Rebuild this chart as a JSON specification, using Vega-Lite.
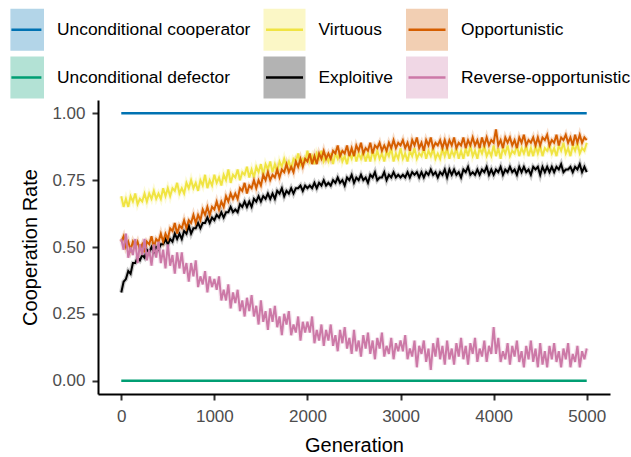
{
  "$schema": "https://vega.github.io/schema/vega-lite/v6.json",
  "width": 512,
  "height": 294,
  "autosize": "none",
  "padding": {"left": 98, "top": 100, "right": 21, "bottom": 63},
  "background": "white",
  "config": {
    "view": {"stroke": null},
    "font": "Liberation Sans",
    "axis": {
      "grid": false,
      "domainColor": "black",
      "domainWidth": 2,
      "tickColor": "#333333",
      "tickWidth": 2,
      "tickSize": 6,
      "labelColor": "#4D4D4D",
      "labelFontSize": 17,
      "labelFont": "Liberation Sans",
      "titleFont": "Liberation Sans",
      "titleFontSize": 20,
      "titleFontWeight": "normal",
      "titleColor": "black"
    },
    "legend": {
      "labelFont": "Liberation Sans",
      "labelFontSize": 17.4,
      "labelColor": "black"
    }
  },
  "datasets": {
    "sim": [
{"g":0,"v":0.69,"e":0.33,"o":0.52,"r":0.53},
{"g":25,"v":0.65,"e":0.37,"o":0.54,"r":0.49},
{"g":50,"v":0.68,"e":0.38,"o":0.50,"r":0.55},
{"g":75,"v":0.65,"e":0.41,"o":0.52,"r":0.46},
{"g":100,"v":0.69,"e":0.40,"o":0.49,"r":0.50},
{"g":125,"v":0.67,"e":0.44,"o":0.52,"r":0.47},
{"g":150,"v":0.70,"e":0.44,"o":0.50,"r":0.53},
{"g":175,"v":0.66,"e":0.46,"o":0.52,"r":0.44},
{"g":200,"v":0.68,"e":0.45,"o":0.49,"r":0.51},
{"g":225,"v":0.67,"e":0.47,"o":0.51,"r":0.47},
{"g":250,"v":0.70,"e":0.46,"o":0.48,"r":0.53},
{"g":275,"v":0.67,"e":0.49,"o":0.52,"r":0.45},
{"g":300,"v":0.70,"e":0.48,"o":0.51,"r":0.49},
{"g":325,"v":0.68,"e":0.50,"o":0.54,"r":0.43},
{"g":350,"v":0.71,"e":0.48,"o":0.50,"r":0.51},
{"g":375,"v":0.68,"e":0.50,"o":0.53,"r":0.46},
{"g":400,"v":0.70,"e":0.49,"o":0.52,"r":0.52},
{"g":425,"v":0.68,"e":0.51,"o":0.55,"r":0.44},
{"g":450,"v":0.72,"e":0.51,"o":0.52,"r":0.49},
{"g":475,"v":0.69,"e":0.53,"o":0.55,"r":0.42},
{"g":500,"v":0.72,"e":0.51,"o":0.53,"r":0.51},
{"g":525,"v":0.69,"e":0.53,"o":0.57,"r":0.43},
{"g":550,"v":0.72,"e":0.52,"o":0.56,"r":0.47},
{"g":575,"v":0.71,"e":0.55,"o":0.59,"r":0.40},
{"g":600,"v":0.74,"e":0.53,"o":0.55,"r":0.48},
{"g":625,"v":0.70,"e":0.55,"o":0.58,"r":0.42},
{"g":650,"v":0.72,"e":0.53,"o":0.57,"r":0.48},
{"g":675,"v":0.70,"e":0.56,"o":0.60,"r":0.40},
{"g":700,"v":0.74,"e":0.55,"o":0.57,"r":0.44},
{"g":725,"v":0.72,"e":0.58,"o":0.60,"r":0.37},
{"g":750,"v":0.75,"e":0.55,"o":0.59,"r":0.44},
{"g":775,"v":0.72,"e":0.57,"o":0.62,"r":0.39},
{"g":800,"v":0.74,"e":0.57,"o":0.59,"r":0.45},
{"g":825,"v":0.71,"e":0.59,"o":0.62,"r":0.35},
{"g":850,"v":0.75,"e":0.57,"o":0.60,"r":0.39},
{"g":875,"v":0.73,"e":0.59,"o":0.64,"r":0.36},
{"g":900,"v":0.77,"e":0.59,"o":0.62,"r":0.41},
{"g":925,"v":0.72,"e":0.61,"o":0.65,"r":0.33},
{"g":950,"v":0.75,"e":0.59,"o":0.62,"r":0.39},
{"g":975,"v":0.73,"e":0.61,"o":0.65,"r":0.35},
{"g":1000,"v":0.77,"e":0.60,"o":0.64,"r":0.38},
{"g":1025,"v":0.74,"e":0.62,"o":0.67,"r":0.34},
{"g":1050,"v":0.76,"e":0.61,"o":0.64,"r":0.39},
{"g":1075,"v":0.73,"e":0.63,"o":0.67,"r":0.30},
{"g":1100,"v":0.77,"e":0.61,"o":0.65,"r":0.34},
{"g":1125,"v":0.75,"e":0.63,"o":0.69,"r":0.30},
{"g":1150,"v":0.79,"e":0.63,"o":0.67,"r":0.36},
{"g":1175,"v":0.74,"e":0.65,"o":0.70,"r":0.27},
{"g":1200,"v":0.77,"e":0.63,"o":0.68,"r":0.33},
{"g":1225,"v":0.76,"e":0.64,"o":0.70,"r":0.29},
{"g":1250,"v":0.79,"e":0.63,"o":0.68,"r":0.34},
{"g":1275,"v":0.75,"e":0.66,"o":0.72,"r":0.26},
{"g":1300,"v":0.78,"e":0.65,"o":0.71,"r":0.30},
{"g":1325,"v":0.77,"e":0.67,"o":0.74,"r":0.24},
{"g":1350,"v":0.80,"e":0.65,"o":0.70,"r":0.31},
{"g":1375,"v":0.76,"e":0.67,"o":0.73,"r":0.26},
{"g":1400,"v":0.79,"e":0.65,"o":0.72,"r":0.32},
{"g":1425,"v":0.76,"e":0.68,"o":0.75,"r":0.24},
{"g":1450,"v":0.80,"e":0.67,"o":0.72,"r":0.28},
{"g":1475,"v":0.78,"e":0.69,"o":0.75,"r":0.21},
{"g":1500,"v":0.81,"e":0.67,"o":0.73,"r":0.30},
{"g":1525,"v":0.77,"e":0.69,"o":0.77,"r":0.22},
{"g":1550,"v":0.81,"e":0.68,"o":0.75,"r":0.26},
{"g":1575,"v":0.79,"e":0.70,"o":0.78,"r":0.19},
{"g":1600,"v":0.82,"e":0.68,"o":0.75,"r":0.27},
{"g":1625,"v":0.78,"e":0.70,"o":0.77,"r":0.22},
{"g":1650,"v":0.81,"e":0.68,"o":0.76,"r":0.28},
{"g":1675,"v":0.78,"e":0.71,"o":0.79,"r":0.20},
{"g":1700,"v":0.82,"e":0.70,"o":0.76,"r":0.24},
{"g":1725,"v":0.80,"e":0.72,"o":0.79,"r":0.17},
{"g":1750,"v":0.83,"e":0.69,"o":0.78,"r":0.25},
{"g":1775,"v":0.80,"e":0.71,"o":0.81,"r":0.21},
{"g":1800,"v":0.82,"e":0.70,"o":0.78,"r":0.26},
{"g":1825,"v":0.79,"e":0.72,"o":0.80,"r":0.17},
{"g":1850,"v":0.83,"e":0.70,"o":0.78,"r":0.21},
{"g":1875,"v":0.82,"e":0.72,"o":0.82,"r":0.18},
{"g":1900,"v":0.85,"e":0.72,"o":0.80,"r":0.24},
{"g":1925,"v":0.81,"e":0.73,"o":0.83,"r":0.15},
{"g":1950,"v":0.83,"e":0.71,"o":0.80,"r":0.22},
{"g":1975,"v":0.82,"e":0.73,"o":0.83,"r":0.18},
{"g":2000,"v":0.86,"e":0.72,"o":0.82,"r":0.22},
{"g":2025,"v":0.82,"e":0.73,"o":0.85,"r":0.18},
{"g":2050,"v":0.84,"e":0.72,"o":0.81,"r":0.24},
{"g":2075,"v":0.81,"e":0.74,"o":0.84,"r":0.14},
{"g":2100,"v":0.85,"e":0.72,"o":0.81,"r":0.19},
{"g":2125,"v":0.83,"e":0.74,"o":0.85,"r":0.15},
{"g":2150,"v":0.86,"e":0.73,"o":0.83,"r":0.21},
{"g":2175,"v":0.82,"e":0.75,"o":0.86,"r":0.13},
{"g":2200,"v":0.84,"e":0.73,"o":0.83,"r":0.19},
{"g":2225,"v":0.82,"e":0.74,"o":0.85,"r":0.15},
{"g":2250,"v":0.85,"e":0.73,"o":0.83,"r":0.21},
{"g":2275,"v":0.81,"e":0.75,"o":0.86,"r":0.13},
{"g":2300,"v":0.85,"e":0.74,"o":0.85,"r":0.17},
{"g":2325,"v":0.83,"e":0.76,"o":0.88,"r":0.11},
{"g":2350,"v":0.86,"e":0.74,"o":0.84,"r":0.19},
{"g":2375,"v":0.82,"e":0.75,"o":0.86,"r":0.14},
{"g":2400,"v":0.84,"e":0.73,"o":0.85,"r":0.20},
{"g":2425,"v":0.81,"e":0.76,"o":0.88,"r":0.12},
{"g":2450,"v":0.85,"e":0.75,"o":0.84,"r":0.16},
{"g":2475,"v":0.83,"e":0.77,"o":0.87,"r":0.10},
{"g":2500,"v":0.86,"e":0.74,"o":0.84,"r":0.19},
{"g":2525,"v":0.82,"e":0.76,"o":0.88,"r":0.11},
{"g":2550,"v":0.85,"e":0.75,"o":0.86,"r":0.15},
{"g":2575,"v":0.83,"e":0.77,"o":0.89,"r":0.09},
{"g":2600,"v":0.86,"e":0.75,"o":0.85,"r":0.17},
{"g":2625,"v":0.82,"e":0.76,"o":0.87,"r":0.12},
{"g":2650,"v":0.85,"e":0.74,"o":0.86,"r":0.18},
{"g":2675,"v":0.82,"e":0.77,"o":0.89,"r":0.10},
{"g":2700,"v":0.86,"e":0.76,"o":0.85,"r":0.15},
{"g":2725,"v":0.83,"e":0.78,"o":0.88,"r":0.08},
{"g":2750,"v":0.86,"e":0.75,"o":0.87,"r":0.16},
{"g":2775,"v":0.83,"e":0.76,"o":0.89,"r":0.12},
{"g":2800,"v":0.85,"e":0.76,"o":0.86,"r":0.18},
{"g":2825,"v":0.82,"e":0.78,"o":0.88,"r":0.09},
{"g":2850,"v":0.86,"e":0.75,"o":0.86,"r":0.13},
{"g":2875,"v":0.84,"e":0.77,"o":0.89,"r":0.10},
{"g":2900,"v":0.87,"e":0.76,"o":0.87,"r":0.16},
{"g":2925,"v":0.82,"e":0.78,"o":0.90,"r":0.08},
{"g":2950,"v":0.85,"e":0.76,"o":0.87,"r":0.14},
{"g":2975,"v":0.83,"e":0.77,"o":0.89,"r":0.11},
{"g":3000,"v":0.87,"e":0.76,"o":0.88,"r":0.15},
{"g":3025,"v":0.83,"e":0.77,"o":0.90,"r":0.11},
{"g":3050,"v":0.85,"e":0.76,"o":0.87,"r":0.17},
{"g":3075,"v":0.82,"e":0.78,"o":0.89,"r":0.08},
{"g":3100,"v":0.86,"e":0.76,"o":0.86,"r":0.12},
{"g":3125,"v":0.84,"e":0.78,"o":0.90,"r":0.09},
{"g":3150,"v":0.87,"e":0.77,"o":0.88,"r":0.15},
{"g":3175,"v":0.83,"e":0.78,"o":0.91,"r":0.05},
{"g":3200,"v":0.85,"e":0.76,"o":0.87,"r":0.13},
{"g":3225,"v":0.84,"e":0.78,"o":0.89,"r":0.10},
{"g":3250,"v":0.87,"e":0.76,"o":0.86,"r":0.15},
{"g":3275,"v":0.83,"e":0.78,"o":0.90,"r":0.07},
{"g":3300,"v":0.86,"e":0.77,"o":0.88,"r":0.12},
{"g":3325,"v":0.84,"e":0.79,"o":0.91,"r":0.04},
{"g":3350,"v":0.87,"e":0.77,"o":0.87,"r":0.14},
{"g":3375,"v":0.83,"e":0.78,"o":0.89,"r":0.09},
{"g":3400,"v":0.85,"e":0.76,"o":0.88,"r":0.16},
{"g":3425,"v":0.83,"e":0.78,"o":0.90,"r":0.08},
{"g":3450,"v":0.87,"e":0.77,"o":0.87,"r":0.13},
{"g":3475,"v":0.84,"e":0.79,"o":0.90,"r":0.06},
{"g":3500,"v":0.87,"e":0.76,"o":0.87,"r":0.15},
{"g":3525,"v":0.83,"e":0.79,"o":0.90,"r":0.08},
{"g":3550,"v":0.86,"e":0.77,"o":0.88,"r":0.12},
{"g":3575,"v":0.84,"e":0.79,"o":0.91,"r":0.06},
{"g":3600,"v":0.87,"e":0.77,"o":0.87,"r":0.14},
{"g":3625,"v":0.83,"e":0.78,"o":0.89,"r":0.09},
{"g":3650,"v":0.86,"e":0.76,"o":0.88,"r":0.16},
{"g":3675,"v":0.83,"e":0.79,"o":0.91,"r":0.08},
{"g":3700,"v":0.87,"e":0.78,"o":0.87,"r":0.13},
{"g":3725,"v":0.84,"e":0.80,"o":0.90,"r":0.06},
{"g":3750,"v":0.88,"e":0.77,"o":0.88,"r":0.14},
{"g":3775,"v":0.84,"e":0.78,"o":0.91,"r":0.10},
{"g":3800,"v":0.86,"e":0.77,"o":0.88,"r":0.16},
{"g":3825,"v":0.83,"e":0.79,"o":0.90,"r":0.07},
{"g":3850,"v":0.87,"e":0.77,"o":0.87,"r":0.12},
{"g":3875,"v":0.85,"e":0.79,"o":0.91,"r":0.09},
{"g":3900,"v":0.88,"e":0.78,"o":0.88,"r":0.15},
{"g":3925,"v":0.84,"e":0.80,"o":0.91,"r":0.07},
{"g":3950,"v":0.86,"e":0.77,"o":0.88,"r":0.13},
{"g":3975,"v":0.84,"e":0.79,"o":0.90,"r":0.10},
{"g":4000,"v":0.88,"e":0.77,"o":0.89,"r":0.20},
{"g":4025,"v":0.84,"e":0.79,"o":0.94,"r":0.10},
{"g":4050,"v":0.87,"e":0.78,"o":0.88,"r":0.16},
{"g":4075,"v":0.83,"e":0.80,"o":0.90,"r":0.07},
{"g":4100,"v":0.87,"e":0.77,"o":0.87,"r":0.11},
{"g":4125,"v":0.85,"e":0.79,"o":0.91,"r":0.08},
{"g":4150,"v":0.88,"e":0.78,"o":0.89,"r":0.14},
{"g":4175,"v":0.84,"e":0.80,"o":0.91,"r":0.06},
{"g":4200,"v":0.86,"e":0.78,"o":0.88,"r":0.13},
{"g":4225,"v":0.85,"e":0.79,"o":0.90,"r":0.09},
{"g":4250,"v":0.88,"e":0.77,"o":0.87,"r":0.15},
{"g":4275,"v":0.84,"e":0.80,"o":0.91,"r":0.07},
{"g":4300,"v":0.87,"e":0.78,"o":0.89,"r":0.11},
{"g":4325,"v":0.85,"e":0.80,"o":0.92,"r":0.05},
{"g":4350,"v":0.88,"e":0.78,"o":0.88,"r":0.13},
{"g":4375,"v":0.84,"e":0.79,"o":0.90,"r":0.08},
{"g":4400,"v":0.87,"e":0.77,"o":0.89,"r":0.15},
{"g":4425,"v":0.84,"e":0.80,"o":0.91,"r":0.07},
{"g":4450,"v":0.88,"e":0.79,"o":0.88,"r":0.12},
{"g":4475,"v":0.85,"e":0.80,"o":0.91,"r":0.05},
{"g":4500,"v":0.88,"e":0.77,"o":0.88,"r":0.14},
{"g":4525,"v":0.84,"e":0.80,"o":0.91,"r":0.06},
{"g":4550,"v":0.87,"e":0.78,"o":0.90,"r":0.11},
{"g":4575,"v":0.86,"e":0.80,"o":0.92,"r":0.05},
{"g":4600,"v":0.88,"e":0.78,"o":0.88,"r":0.13},
{"g":4625,"v":0.85,"e":0.80,"o":0.90,"r":0.08},
{"g":4650,"v":0.87,"e":0.78,"o":0.89,"r":0.14},
{"g":4675,"v":0.84,"e":0.80,"o":0.92,"r":0.07},
{"g":4700,"v":0.88,"e":0.79,"o":0.88,"r":0.11},
{"g":4725,"v":0.86,"e":0.81,"o":0.91,"r":0.05},
{"g":4750,"v":0.89,"e":0.78,"o":0.90,"r":0.12},
{"g":4775,"v":0.85,"e":0.79,"o":0.92,"r":0.08},
{"g":4800,"v":0.87,"e":0.79,"o":0.89,"r":0.14},
{"g":4825,"v":0.84,"e":0.80,"o":0.91,"r":0.05},
{"g":4850,"v":0.88,"e":0.78,"o":0.88,"r":0.10},
{"g":4875,"v":0.86,"e":0.80,"o":0.92,"r":0.07},
{"g":4900,"v":0.89,"e":0.79,"o":0.89,"r":0.13},
{"g":4925,"v":0.85,"e":0.81,"o":0.92,"r":0.05},
{"g":4950,"v":0.87,"e":0.78,"o":0.89,"r":0.11},
{"g":4975,"v":0.86,"e":0.80,"o":0.91,"r":0.08},
{"g":5000,"v":0.89,"e":0.78,"o":0.90,"r":0.12}
    ],
    "flat": [
      {"g": 0, "s": "uc", "y": 1},
      {"g": 5000, "s": "uc", "y": 1},
      {"g": 0, "s": "ud", "y": 0},
      {"g": 5000, "s": "ud", "y": 0}
    ]
  },
  "encoding": {
    "x": {
      "field": "g",
      "type": "quantitative",
      "scale": {"domain": [-250, 5250], "nice": false, "zero": false},
      "axis": {"title": "Generation", "values": [0, 1000, 2000, 3000, 4000, 5000], "format": "d", "labelPadding": 8, "titlePadding": 11}
    },
    "y": {
      "field": "y",
      "type": "quantitative",
      "scale": {"domain": [-0.05, 1.05], "nice": false, "zero": false},
      "axis": {"title": "Cooperation Rate", "values": [0, 0.25, 0.5, 0.75, 1], "format": ".2f", "labelPadding": 7, "titlePadding": 11}
    }
  },
  "layer": [
    {
      "data": {"name": "flat"},
      "mark": {"type": "line", "strokeWidth": 2.5},
      "encoding": {
        "stroke": {
          "field": "s",
          "type": "nominal",
          "scale": {"domain": ["uc", "ud", "v", "e", "o", "r"], "range": ["#0072B2", "#009E73", "#F0E442", "#000000", "#D55E00", "#CC79A7"]},
          "legend": {
            "title": null,
            "orient": "none",
            "legendX": -96.5,
            "legendY": -92,
            "columns": 3,
            "columnPadding": 7.5,
            "rowPadding": -10,
            "symbolType": {"expr": "datum.value == 'uc' || datum.value == 'ud' ? 'M-0.58,0H0.92H0.57H1.05V-1.05H-0.63V1.05H1.05V0Z' : 'M-0.925,0H1.05V-1.05H-1.05V1.05H1.05V0Z'"},
            "symbolSize": 1600,
            "symbolStrokeWidth": 2.5,
            "symbolDash": [37, 2000],
            "symbolOpacity": 1,
            "symbolFillColor": {"expr": "datum.value == 'uc' ? '#B3D5E8' : datum.value == 'ud' ? '#B3E2D5' : datum.value == 'v' ? '#FBF7C6' : datum.value == 'e' ? '#B3B3B3' : datum.value == 'o' ? '#F2CFB3' : '#F0D7E5'"},
            "labelOffset": 12.5,
            "labelLimit": 400,
            "labelExpr": "datum.label == 'uc' ? 'Unconditional cooperator' : datum.label == 'v' ? 'Virtuous' : datum.label == 'o' ? 'Opportunistic' : datum.label == 'ud' ? 'Unconditional defector' : datum.label == 'e' ? 'Exploitive' : 'Reverse-opportunistic'"
          }
        }
      }
    },
    {
      "data": {"name": "sim"},
      "transform": [{"fold": ["v", "e", "o", "r"], "as": ["s", "y"]}],
      "mark": {"type": "line", "strokeWidth": 4.5, "strokeOpacity": 0.2},
      "encoding": {"stroke": {"field": "s", "type": "nominal"}}
    },
    {
      "data": {"name": "sim"},
      "transform": [{"fold": ["v", "e", "o", "r"], "as": ["s", "y"]}],
      "mark": {"type": "line", "strokeWidth": 2},
      "encoding": {"stroke": {"field": "s", "type": "nominal"}}
    }
  ]
}
